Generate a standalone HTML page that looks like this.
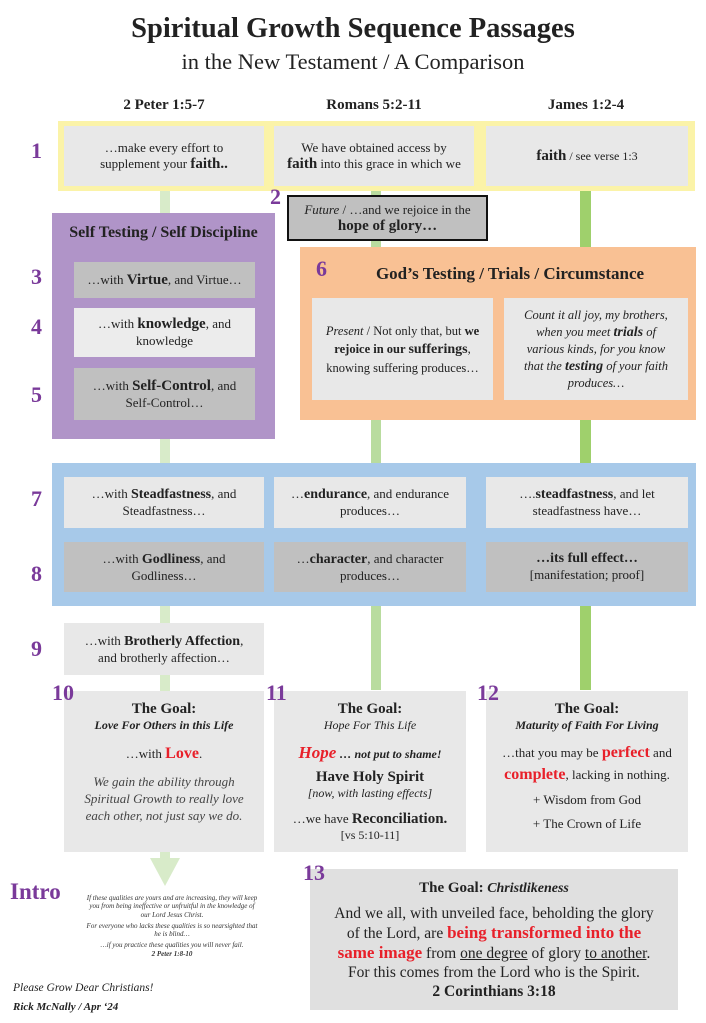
<!DOCTYPE html>
<html><head><meta charset="utf-8"><style>
body{margin:0;width:706px;height:1023px;background:#fff;position:relative;font-family:"Liberation Serif",serif;color:#222;overflow:hidden}
div{position:absolute;box-sizing:border-box}
.c{display:flex;flex-direction:column;justify-content:center;align-items:center;text-align:center}
.n{color:#7a3a9a;font-weight:bold;font-size:22px}
.lg{background:#e8e8e8}.dg{background:#c0c0c0}
.r{color:#e8202a;font-weight:bold}
p{margin:0}
</style></head><body>
<div style="left:0;top:13px;width:706px;text-align:center;font-size:28.5px;font-weight:bold">Spiritual Growth Sequence Passages</div>
<div style="left:0;top:49px;width:706px;text-align:center;font-size:22.5px">in the New Testament / A Comparison</div>
<div style="left:64px;top:97px;width:200px;text-align:center;font-size:15px;font-weight:bold">2 Peter 1:5-7</div>
<div style="left:274px;top:97px;width:200px;text-align:center;font-size:15px;font-weight:bold">Romans 5:2-11</div>
<div style="left:486px;top:97px;width:200px;text-align:center;font-size:15px;font-weight:bold">James 1:2-4</div>
<!-- connectors -->
<div style="left:160px;top:190px;width:10px;height:672px;background:#d8ebc9"></div>
<div style="left:371px;top:190px;width:10px;height:500px;background:#b9dc9f"></div>
<div style="left:580px;top:190px;width:11px;height:500px;background:#9fd06c"></div>
<div style="left:150px;top:858px;width:0;height:0;border-left:15px solid transparent;border-right:15px solid transparent;border-top:28px solid #d8ebc9"></div>
<!-- row1 -->
<div style="left:58px;top:121px;width:637px;height:70px;background:#fbf3a8"></div>
<div class="c lg" style="left:64px;top:126px;width:200px;height:60px;font-size:13px"><span>…make every effort to</span><span>supplement your <b style="font-size:15px">faith..</b></span></div>
<div class="c lg" style="left:274px;top:126px;width:200px;height:60px;font-size:13px"><span>We have obtained access by</span><span><b style="font-size:15px">faith</b> into this grace in which we</span></div>
<div class="c lg" style="left:486px;top:126px;width:202px;height:60px;font-size:12px"><span><b style="font-size:15px">faith</b> / see verse 1:3</span></div>
<div class="n" style="left:31px;top:138px">1</div>
<div class="n" style="left:270px;top:184px">2</div>
<div class="c dg" style="left:287px;top:195px;width:201px;height:46px;border:2px solid #111;font-size:13px;line-height:17px"><span><i>Future</i> / …and we rejoice in the</span><b style="font-size:15px">hope of glory…</b></div>
<!-- purple -->
<div style="left:52px;top:213px;width:223px;height:226px;background:#b094c8"></div>
<div style="left:52px;top:224px;width:223px;text-align:center;font-size:16px;font-weight:bold">Self Testing / Self Discipline</div>
<div class="c dg" style="left:74px;top:262px;width:181px;height:36px;font-size:13px"><span>…with <b style="font-size:15px">Virtue</b>, and Virtue…</span></div>
<div class="c" style="left:74px;top:308px;width:181px;height:49px;font-size:13px;background:#ececec"><span>…with <b style="font-size:15px">knowledge</b>, and</span><span>knowledge</span></div>
<div class="c dg" style="left:74px;top:368px;width:181px;height:52px;font-size:13px"><span>…with <b style="font-size:15px">Self-Control</b>, and</span><span>Self-Control…</span></div>
<div class="n" style="left:31px;top:264px">3</div>
<div class="n" style="left:31px;top:314px">4</div>
<div class="n" style="left:31px;top:382px">5</div>
<!-- orange -->
<div style="left:300px;top:247px;width:396px;height:173px;background:#f9c194"></div>
<div class="n" style="left:316px;top:256px">6</div>
<div style="left:340px;top:264px;width:340px;text-align:center;font-size:17px;font-weight:bold">God’s Testing / Trials / Circumstance</div>
<div class="c lg" style="left:312px;top:298px;width:181px;height:102px;font-size:12.5px;line-height:18px"><span><i>Present</i> / Not only that, but <b>we</b></span><span><b>rejoice in our <span style="font-size:14px">sufferings</span></b>,</span><span>knowing suffering produces…</span></div>
<div class="c lg" style="left:504px;top:298px;width:184px;height:102px;font-size:12.5px;line-height:17px;font-style:italic"><span>Count it all joy, my brothers,</span><span>when you meet <b style="font-size:14px">trials</b> of</span><span>various kinds, for you know</span><span>that the <b style="font-size:14px">testing</b> of your faith</span><span>produces…</span></div>
<!-- blue -->
<div style="left:52px;top:463px;width:644px;height:143px;background:#a7c9e9"></div>
<div class="c lg" style="left:64px;top:477px;width:200px;height:51px;font-size:13px"><span>…with <b style="font-size:14px">Steadfastness</b>, and</span><span>Steadfastness…</span></div>
<div class="c lg" style="left:274px;top:477px;width:192px;height:51px;font-size:13px"><span>…<b style="font-size:14px">endurance</b>, and endurance</span><span>produces…</span></div>
<div class="c lg" style="left:486px;top:477px;width:202px;height:51px;font-size:13px"><span>….<b style="font-size:14px">steadfastness</b>, and let</span><span>steadfastness have…</span></div>
<div class="c dg" style="left:64px;top:542px;width:200px;height:50px;font-size:13px"><span>…with <b style="font-size:14px">Godliness</b>, and</span><span>Godliness…</span></div>
<div class="c dg" style="left:274px;top:542px;width:192px;height:50px;font-size:13px"><span>…<b style="font-size:14px">character</b>, and character</span><span>produces…</span></div>
<div class="c dg" style="left:486px;top:542px;width:202px;height:50px;font-size:13px"><b style="font-size:14px">…its full effect…</b><span>[manifestation; proof]</span></div>
<div class="n" style="left:31px;top:486px">7</div>
<div class="n" style="left:31px;top:561px">8</div>
<div class="n" style="left:31px;top:636px">9</div>
<div class="c lg" style="left:64px;top:623px;width:200px;height:52px;font-size:13px"><span>…with <b style="font-size:14px">Brotherly Affection</b>,</span><span>and brotherly affection…</span></div>
<!-- goals -->
<div class="lg" style="left:64px;top:691px;width:200px;height:161px;text-align:center;font-size:13px">
<p style="margin-top:10px;font-weight:bold;font-size:15px">The Goal:</p><p style="font-style:italic;font-weight:bold;font-size:12px">Love For Others in this Life</p>
<p style="margin-top:12px">…with <span class="r" style="font-size:16px">Love</span>.</p>
<p style="margin-top:10px;font-style:italic;color:#444;line-height:17px">We gain the ability through<br>Spiritual Growth to really love<br>each other, not just say we do.</p></div>
<div class="lg" style="left:274px;top:691px;width:192px;height:161px;text-align:center;font-size:13px">
<p style="margin-top:10px;font-weight:bold;font-size:15px">The Goal:</p><p style="font-style:italic;font-size:12px">Hope For This Life</p>
<p style="margin-top:10px"><i class="r" style="font-size:17px">Hope</i> <b><i style="font-size:12px">… not put to shame!</i></b></p>
<p style="margin-top:6px;font-weight:bold;font-size:15px">Have Holy Spirit</p><p style="font-style:italic;font-size:12px">[now, with lasting effects]</p>
<p style="margin-top:10px">…we have <b style="font-size:15px">Reconciliation.</b></p><p style="font-size:12px">[vs 5:10-11]</p></div>
<div class="lg" style="left:486px;top:691px;width:202px;height:161px;text-align:center;font-size:13px">
<p style="margin-top:10px;font-weight:bold;font-size:15px">The Goal:</p><p style="font-style:italic;font-weight:bold;font-size:12px">Maturity of Faith For Living</p>
<p style="margin-top:9px;line-height:22px">…that you may be <span class="r" style="font-size:16px">perfect</span> and<br><span class="r" style="font-size:16px">complete</span>, lacking in nothing.</p>
<p style="margin-top:6px">+ Wisdom from God</p><p style="margin-top:8px">+ The Crown of Life</p></div>
<div class="n" style="left:52px;top:680px">10</div>
<div class="n" style="left:266px;top:680px">11</div>
<div class="n" style="left:477px;top:680px">12</div>
<div style="left:310px;top:869px;width:368px;height:141px;background:#e0e0e0;text-align:center;font-size:15.5px;line-height:19px">
<p style="margin-top:10px;font-size:14px"><b style="font-size:15px">The Goal:</b> <b><i>Christlikeness</i></b></p>
<p style="margin-top:6px">And we all, with unveiled face, beholding the glory<br>of the Lord, are <span class="r" style="font-size:17px">being transformed into the<br>same image</span> from <u>one degree</u> of glory <u>to another</u>.<br>For this comes from the Lord who is the Spirit.<br><b>2 Corinthians 3:18</b></p></div>
<div class="n" style="left:303px;top:860px">13</div>
<!-- intro -->
<div style="left:10px;top:879px;font-size:23px;font-weight:bold;color:#7a3a9a">Intro</div>
<div style="left:84px;top:894px;width:176px;text-align:center;font-size:7px;font-style:italic;line-height:8.3px;color:#333">If these qualities are yours and are increasing, they will keep you from being ineffective or unfruitful in the knowledge of our Lord Jesus Christ.<p style="margin-top:3px">For everyone who lacks these qualities is so nearsighted that he is blind…</p><p style="margin-top:3px">…if you practice these qualities you will never fail.</p><b>2 Peter 1:8-10</b></div>
<div style="left:13px;top:982px;font-size:11.5px;font-style:italic">Please Grow Dear Christians!</div>
<div style="left:13px;top:1001px;font-size:11px;font-style:italic;font-weight:bold">Rick McNally / Apr ‘24</div>
</body></html>
